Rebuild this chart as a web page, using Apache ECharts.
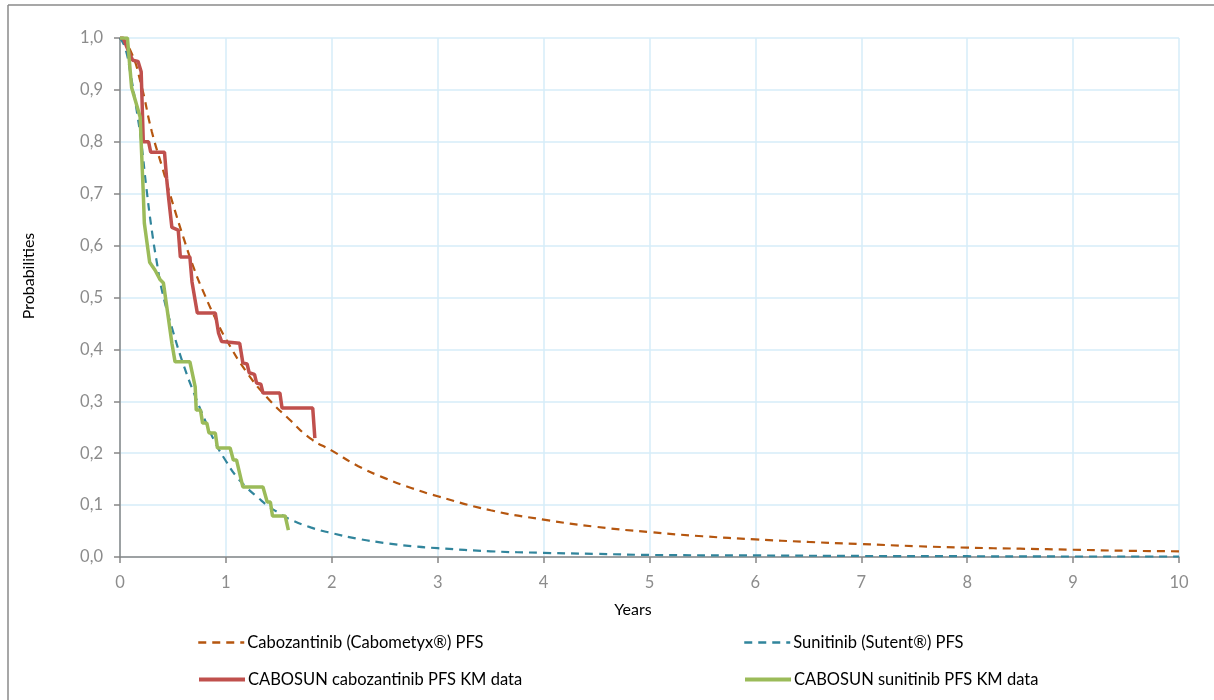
<!DOCTYPE html>
<html>
<head>
<meta charset="utf-8">
<script src="https://cdn.jsdelivr.net/npm/echarts@6/dist/echarts.min.js"></script>
<style>
html,body{margin:0;padding:0;background:#fff;}
#chart{width:1214px;height:700px;}
</style>
</head>
<body>
<div id="chart"></div>
<script>
// Tick labels
var xTicks = [0,1,2,3,4,5,6,7,8,9,10];
var yTicks = ['0,0','0,1','0,2','0,3','0,4','0,5','0,6','0,7','0,8','0,9','1,0'];

// Axis titles
var xTitle = 'Years';
var yTitle = 'Probabilities';

// Series names
var seriesNames = [
  'Cabozantinib (Cabometyx®) PFS',
  'Sunitinib (Sutent®) PFS',
  'CABOSUN cabozantinib PFS KM data',
  'CABOSUN sunitinib PFS KM data'
];

// Parametric cabozantinib PFS curve [years, probability]
var caboFit = [
  [0,1.0],[0.1,0.975],[0.2,0.91],[0.3,0.82],[0.4,0.75],[0.5,0.68],[0.6,0.615],
  [0.7,0.555],[0.8,0.505],[0.9,0.46],[1.0,0.42],[1.2,0.355],[1.4,0.305],
  [1.6,0.265],[1.8,0.228],[2.0,0.205],[2.25,0.175],[2.5,0.152],[2.75,0.133],
  [3.0,0.117],[3.5,0.09],[4.0,0.072],[4.5,0.058],[5.0,0.048],[5.5,0.04],
  [6.0,0.034],[6.5,0.029],[7.0,0.025],[7.5,0.021],[8.0,0.018],[8.5,0.016],
  [9.0,0.014],[9.5,0.012],[10.0,0.011]
];

// Parametric sunitinib PFS curve [years, probability]
var suniFit = [
  [0,1.0],[0.05,0.98],[0.1,0.93],[0.15,0.87],[0.2,0.80],[0.25,0.71],[0.3,0.63],
  [0.35,0.565],[0.4,0.51],[0.5,0.435],[0.6,0.37],[0.7,0.315],[0.8,0.265],
  [0.9,0.22],[1.0,0.185],[1.1,0.155],[1.2,0.133],[1.3,0.115],[1.4,0.098],
  [1.5,0.085],[1.6,0.073],[1.8,0.057],[2.0,0.046],[2.25,0.035],[2.5,0.027],
  [2.75,0.021],[3.0,0.017],[3.5,0.011],[4.0,0.008],[4.5,0.006],[5.0,0.004],
  [6.0,0.003],[7.0,0.002],[8.0,0.0015],[9.0,0.001],[10.0,0.001]
];

// CABOSUN cabozantinib KM data [years, probability]
var caboKM = [
  [0,1.0],[0.03,1.0],[0.09,0.97],[0.12,0.957],[0.17,0.955],[0.2,0.935],
  [0.22,0.80],[0.27,0.80],[0.29,0.78],[0.42,0.78],[0.44,0.73],[0.46,0.69],
  [0.49,0.635],[0.55,0.63],[0.57,0.578],[0.66,0.578],[0.68,0.53],[0.73,0.47],
  [0.9,0.47],[0.93,0.432],[0.96,0.415],[1.13,0.412],[1.16,0.374],[1.2,0.372],
  [1.22,0.355],[1.27,0.352],[1.29,0.335],[1.33,0.333],[1.35,0.316],[1.51,0.316],
  [1.53,0.287],[1.82,0.287],[1.84,0.229]
];

// CABOSUN sunitinib KM data [years, probability]
var suniKM = [
  [0,1.0],[0.07,1.0],[0.11,0.904],[0.19,0.848],[0.22,0.70],[0.23,0.643],
  [0.28,0.568],[0.33,0.553],[0.38,0.534],[0.41,0.528],[0.45,0.47],[0.49,0.412],
  [0.52,0.376],[0.66,0.376],[0.71,0.328],[0.72,0.283],[0.76,0.283],[0.78,0.258],
  [0.82,0.258],[0.84,0.239],[0.9,0.239],[0.92,0.21],[1.04,0.21],[1.07,0.187],
  [1.1,0.187],[1.16,0.135],[1.35,0.135],[1.39,0.106],[1.42,0.106],[1.44,0.079],
  [1.56,0.079],[1.59,0.052]
];

var FONT = 'Lato, "Liberation Sans", sans-serif';
var chart = echarts.init(document.getElementById('chart'), null, {renderer:'canvas'});

function legendItem(name, left, top, w){
  return {
    data:[name], left:left, top:top, orient:'horizontal',
    itemWidth:46, itemHeight:16, itemGap:0, padding:0,
    textStyle:{fontFamily:FONT, fontSize:16.5, color:'#000', padding:[0,0,0,-2]},
    itemStyle:{color:'rgba(0,0,0,0)', borderWidth:0, opacity:0},
    lineStyle:{width:w},
    selectedMode:false
  };
}

chart.setOption({
  animation:false,
  backgroundColor:'#fff',
  grid:{left:120, right:35, top:38, bottom:143},
  legend:[
    legendItem(seriesNames[0], 197, 634, 2.5),
    legendItem(seriesNames[1], 743, 634, 2.5),
    legendItem(seriesNames[2], 197, 671, 4),
    legendItem(seriesNames[3], 743, 671, 4)
  ],
  xAxis:{
    type:'value', min:0, max:10, interval:1,
    axisLine:{show:true, onZero:false, lineStyle:{color:'#868686', width:1.5}},
    axisTick:{show:true, length:6, lineStyle:{color:'#868686', width:1.5}},
    axisLabel:{fontFamily:FONT, fontSize:16.5, color:'#8c8c8c', margin:17,
      formatter:function(v){ return xTicks.indexOf(v) >= 0 ? String(v) : ''; }},
    splitLine:{show:true, lineStyle:{color:'#d6ecf8', width:1.5}}
  },
  yAxis:{
    type:'value', min:0, max:1, interval:0.1,
    axisLine:{show:true, onZero:false, lineStyle:{color:'#868686', width:1.5}},
    axisTick:{show:true, length:6, lineStyle:{color:'#868686', width:1.5}},
    axisLabel:{fontFamily:FONT, fontSize:16.5, color:'#8c8c8c', margin:17,
      formatter:function(v){ return yTicks[Math.round(v*10)]; }},
    splitLine:{show:true, lineStyle:{color:'#d6ecf8', width:1.5}}
  },
  series:[
    {name:seriesNames[0], type:'line', data:caboFit, showSymbol:false, symbol:'none', smooth:true,
      lineStyle:{color:'#b5560f', width:2.2, type:[8,6]}, itemStyle:{color:'#b5560f'}},
    {name:seriesNames[1], type:'line', data:suniFit, showSymbol:false, symbol:'none', smooth:true,
      lineStyle:{color:'#31859c', width:2.2, type:[8,6]}, itemStyle:{color:'#31859c'}},
    {name:seriesNames[2], type:'line', data:caboKM, showSymbol:false, symbol:'none',
      lineStyle:{color:'#c0504d', width:3.5}, itemStyle:{color:'#c0504d'}},
    {name:seriesNames[3], type:'line', data:suniKM, showSymbol:false, symbol:'none',
      lineStyle:{color:'#9bbb59', width:3.5}, itemStyle:{color:'#9bbb59'}}
  ],
  graphic:[
    {type:'line', shape:{x1:8, y1:5, x2:1214, y2:5}, style:{stroke:'#8a8a8a', lineWidth:1.5}},
    {type:'line', shape:{x1:8, y1:5, x2:8, y2:700}, style:{stroke:'#8a8a8a', lineWidth:1.5}},
    {type:'text', x:633, y:610, style:{text:xTitle, font:'16px ' + FONT, fill:'#000', align:'center', verticalAlign:'middle'}},
    {type:'text', x:29, y:276, rotation:Math.PI/2, style:{text:yTitle, font:'16px ' + FONT, fill:'#000', align:'center', verticalAlign:'middle'}}
  ]
});
</script>
</body>
</html>
